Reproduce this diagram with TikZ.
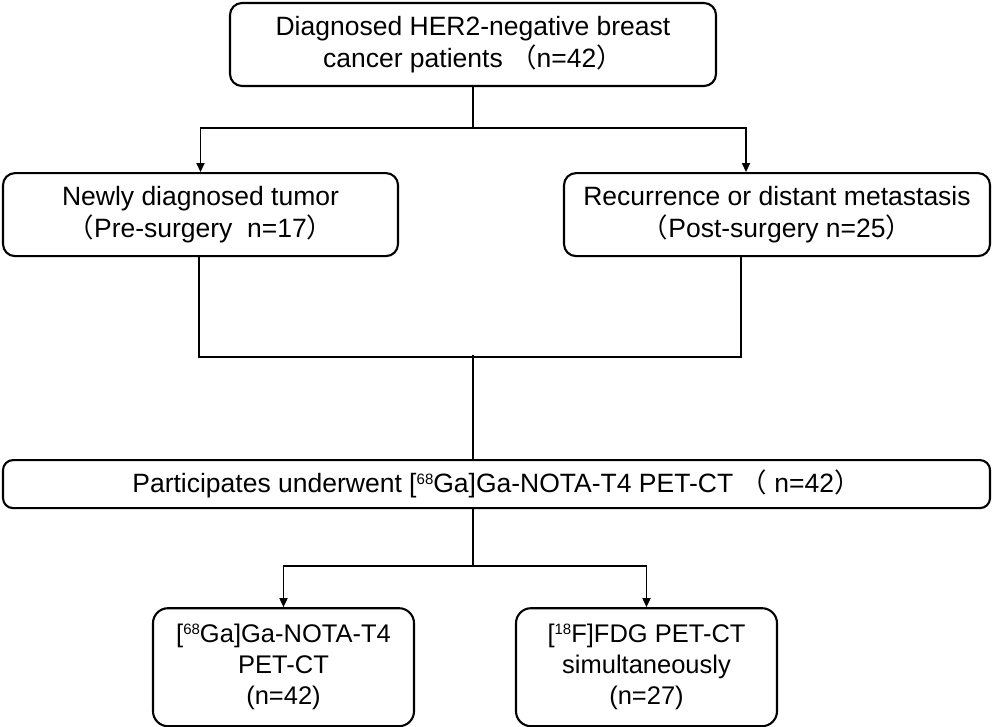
\documentclass[tikz,border=0pt]{standalone}
\usepackage{fontspec}
\setmainfont{Liberation Sans}
\newfontfamily\cjkparen{Noto Sans CJK SC}
\usetikzlibrary{positioning,arrows.meta}
\newcommand{\fwlp}{{\cjkparen （}}
\newcommand{\fwrp}{{\cjkparen ）}}
\newcommand{\iso}[1]{\raisebox{8pt}{\fontsize{15pt}{15pt}\selectfont #1}}

\begin{document}
\begin{tikzpicture}[
    x=1pt, y=1pt,
    font=\fontsize{26.5pt}{32pt}\selectfont,
    box/.style={rectangle, draw, rounded corners=12pt, align=center, inner sep=0pt, line width=2.1pt, minimum height=83pt},
    wide/.style={box, rounded corners=10pt, minimum width=987pt, minimum height=48pt},
    scan/.style={box, font=\fontsize{25.5pt}{31pt}\selectfont, rounded corners=15pt, minimum width=261pt, minimum height=118pt},
    link/.style={line width=1.7pt},
    arr/.style={link, -{Triangle[length=9pt, width=8pt]}}
]
\useasboundingbox (0,0) rectangle (993,-726);

% --- patient groups ---
\node[box, minimum width=486pt] (diag) at (473,-44.5) {Diagnosed HER2-negative breast\\cancer patients \fwlp n=42\fwrp};
\node[box, minimum width=395pt, below=85pt of diag, xshift=-272.5pt] (newly) {Newly diagnosed tumor\\\fwlp Pre-surgery~ n=17\fwrp};
\node[box, minimum width=426pt, below=85pt of diag, xshift=304pt] (recur) {Recurrence or distant metastasis\\\fwlp Post-surgery n=25\fwrp};

% --- imaging ---
\node[wide, below=372pt of diag, xshift=23.5pt] (part) {Participates underwent [\iso{68}Ga]Ga-NOTA-T4 PET-CT \fwlp\ n=42\fwrp};
\node[scan, below=98pt of part, xshift=-213pt] (ga) {[\iso{68}Ga]Ga-NOTA-T4\\PET-CT\\(n=42)};
\node[scan, below=98pt of part, xshift=150pt] (fdg) {[\iso{18}F]FDG PET-CT\\simultaneously\\(n=27)};

% --- connectors ---
\draw[arr] (diag.south) -- ++(0,-41) -| (newly.north);
\draw[arr] (diag.south) -- ++(0,-41) -| ([xshift=-31pt]recur.north);

\draw[link] ([xshift=-1.5pt]newly.south) -- ++(0,-100) -| ([xshift=-36pt]recur.south);
\draw[link] (diag.south |- part.north) -- ++(0,104);

\draw[arr] (diag.south |- part.south) -- ++(0,-57) -| (ga.north);
\draw[arr] (diag.south |- part.south) -- ++(0,-57) -| (fdg.north);

\end{tikzpicture}
\end{document}
